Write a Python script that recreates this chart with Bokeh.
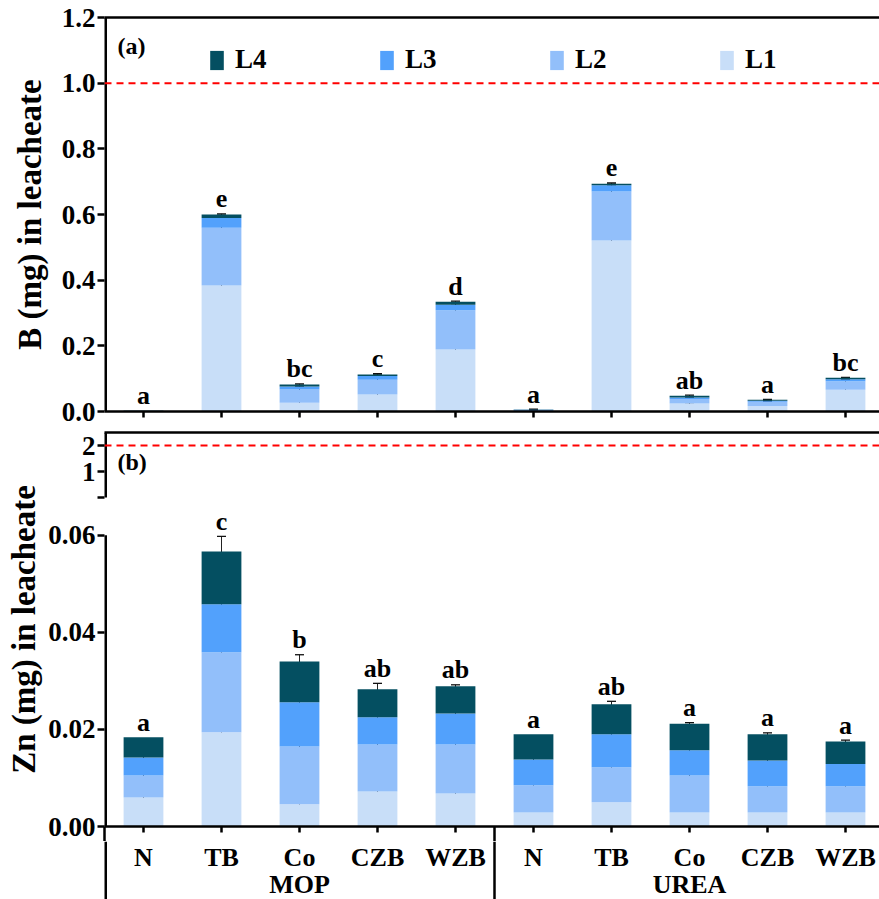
import numpy as np
from bokeh.plotting import figure
from bokeh.models import (ColumnDataSource, Range1d, FixedTicker, NumeralTickFormatter,
                          LinearAxis, Span, Whisker, TeeHead, Legend, LegendItem, Label)
from bokeh.layouts import column
from bokeh.core.properties import value
from bokeh.embed import file_html
from bokeh.resources import INLINE

# ---- data ---------------------------------------------------------------
treatments = ["N", "TB", "Co", "CZB", "WZB", "N", "TB", "Co", "CZB", "WZB"]
fertilizers = ["MOP", "UREA"]
layers = ["L1", "L2", "L3", "L4"]

# B leached from each soil layer (mg); first five = MOP, last five = UREA
b_L1 = [0.0012, 0.384, 0.027, 0.052, 0.189, 0.001, 0.521, 0.024, 0.017, 0.066]
b_L2 = [0.0008, 0.176, 0.040, 0.045, 0.119, 0.001, 0.149, 0.014, 0.013, 0.026]
b_L3 = [0.0004, 0.029, 0.009, 0.011, 0.017, 0.003, 0.019, 0.005, 0.003, 0.006]
b_L4 = [0.0003, 0.011, 0.006, 0.005, 0.009, 0.001, 0.005, 0.005, 0.003, 0.005]
b_err_L1 = [0, 0.066, 0.009, 0.006, 0.022, 0.001, 0.066, 0.003, 0.003, 0.031]
b_err_L2 = [0, 0.034, 0.008, 0.004, 0.008, 0.001, 0.021, 0.003, 0.002, 0.004]
b_err_L3 = [0, 0.005, 0.003, 0.003, 0.004, 0.001, 0.003, 0.002, 0.002, 0.002]
b_err_L4 = [0, 0.002, 0.002, 0.002, 0.002, 0.001, 0.002, 0.002, 0.001, 0.001]
b_letters = ["a", "e", "bc", "c", "d", "a", "e", "ab", "a", "bc"]
b_limit = 1.0

# Zn leached from each soil layer (mg)
zn_L1 = [0.0060, 0.0194, 0.0046, 0.0072, 0.0068, 0.0029, 0.0050, 0.0029, 0.0029, 0.0029]
zn_L2 = [0.0045, 0.0165, 0.0119, 0.0097, 0.0101, 0.0056, 0.0072, 0.0076, 0.0054, 0.0054]
zn_L3 = [0.0037, 0.0099, 0.0091, 0.0056, 0.0064, 0.0053, 0.0068, 0.0052, 0.0053, 0.0046]
zn_L4 = [0.0042, 0.0109, 0.0084, 0.0058, 0.0056, 0.0052, 0.0062, 0.0055, 0.0054, 0.0046]
zn_err_L1 = [0.0006, 0.0075, 0.0014, 0.0003, 0.0005, 0, 0, 0, 0, 0]
zn_err_L2 = [0.0003, 0.0033, 0.0026, 0.0015, 0.0012, 0.0003, 0.0005, 0.0018, 0.0003, 0.0003]
zn_err_L3 = [0.0003, 0.0022, 0.0016, 0.0006, 0.0009, 0.0003, 0.0004, 0.0004, 0.0003, 0.0003]
zn_err_L4 = [0, 0.0031, 0.0014, 0.0012, 0.0003, 0, 0.0006, 0.0002, 0.0003, 0.0003]
zn_letters = ["a", "c", "b", "ab", "ab", "a", "ab", "a", "a", "a"]
zn_limit = 2.0

# ---- styling / layout constants -----------------------------------------
FONT = "Liberation Serif"
COLORS = ["#C8DEF8", "#92BFFA", "#52A1FC", "#044F61"]
LEFT = 104
FRAME_W = 775
UNIT_PX = 78.0
X_END = FRAME_W / UNIT_PX
BAR_W = 0.51
LINE_W = 2.5
TICK_FONT = "27px"
SEP_TOP = 15          # separator length inside the Zn panel's bottom border

xs = [i + 0.5 for i in range(len(treatments))]
group_centers = [2.5, 7.5]
group_edges = [0, 5]

# broken Zn axis: lower part 0-0.06, upper part 0-2.5 drawn compressed above it
ZN_LOW_MAX = 0.06
ZN_UP_BASE = 0.0678
ZN_UP_SCALE = 0.00536
ZN_UP_MAX = 2.5
ZN_TOP = ZN_UP_BASE + ZN_UP_MAX * ZN_UP_SCALE


def zn_up(v):
    return ZN_UP_BASE + v * ZN_UP_SCALE


def make_fig(height, y_start, y_end, top, bottom, frame_top_line=True, axes=True):
    p = figure(width=LEFT + FRAME_W, height=height,
               x_range=Range1d(0, X_END), y_range=Range1d(y_start, y_end),
               output_backend="svg", toolbar_location=None,
               x_axis_location="below" if axes else None,
               y_axis_location="left" if axes else None,
               min_border_left=LEFT, min_border_right=0,
               min_border_top=top, min_border_bottom=bottom)
    p.outline_line_color = None
    p.grid.visible = False
    p.background_fill_color = "white"
    p.border_fill_color = "white"
    if frame_top_line:
        top_axis = LinearAxis(ticker=FixedTicker(ticks=[]), axis_line_width=LINE_W,
                              major_tick_line_color=None, minor_tick_line_color=None,
                              major_tick_out=0, major_tick_in=0, major_label_standoff=0)
        p.add_layout(top_axis, "above")
    return p


def style_axis(ax, size=TICK_FONT):
    ax.axis_line_width = LINE_W
    ax.major_tick_line_width = LINE_W
    ax.major_tick_in = 0
    ax.major_tick_out = 7
    ax.minor_tick_line_color = None
    ax.major_label_text_font = FONT
    ax.major_label_text_font_style = "bold"
    ax.major_label_text_font_size = size
    ax.major_label_text_color = "black"
    ax.axis_label_text_font = FONT
    ax.axis_label_text_font_style = "bold"
    ax.axis_label_text_font_size = "33px"
    ax.axis_label_text_color = "black"


def draw_panel(p, vals, errs, letters):
    data = dict(x=xs)
    for name, v in zip(layers, vals):
        data[name] = v
    src = ColumnDataSource(data)
    renderers = p.vbar_stack(layers, x="x", width=BAR_W, fill_color=COLORS,
                             line_color=None, source=src)
    cum = np.cumsum(np.array(vals, dtype=float), axis=0)
    wx, lo, hi = [], [], []
    for k in range(len(layers)):
        for i in range(len(xs)):
            e = errs[k][i]
            if e > 0:
                wx.append(xs[i])
                lo.append(cum[k][i] - e)
                hi.append(cum[k][i] + e)
    wsrc = ColumnDataSource(dict(x=wx, lower=lo, upper=hi))
    whisk = Whisker(source=wsrc, base="x", lower="lower", upper="upper",
                    dimension="height", line_color="#222222", line_width=1,
                    upper_head=TeeHead(size=9, line_color="#111111", line_width=1.3),
                    lower_head=TeeHead(size=9, line_color="#111111", line_width=1.3))
    p.add_layout(whisk)
    tops = cum[-1] + np.array(errs[-1], dtype=float)
    lsrc = ColumnDataSource(dict(x=xs, y=tops, lab=letters))
    p.text(x="x", y="y", text="lab", source=lsrc, text_font=value(FONT),
           text_font_style="bold", text_font_size="26px", text_color="black",
           text_align="center", text_baseline="alphabetic", y_offset=-15)
    return renderers


# ---- panel (a): B -------------------------------------------------------
pa = make_fig(426, 0, 1.2, 17, 15)
rs = draw_panel(pa, [b_L1, b_L2, b_L3, b_L4],
                [b_err_L1, b_err_L2, b_err_L3, b_err_L4], b_letters)
pa.segment(x0=[0], y0=[0], x1=[0], y1=[1.2], line_width=2 * LINE_W, line_color="black")

ya = pa.left[0]
style_axis(ya)
ya.axis_line_color = None
ya.ticker = FixedTicker(ticks=[0, 0.2, 0.4, 0.6, 0.8, 1.0, 1.2])
ya.formatter = NumeralTickFormatter(format="0.0")
ya.major_label_standoff = 2
ya.axis_label = "B (mg) in leacheate"
ya.axis_label_standoff = 11

xa = pa.below[0]
style_axis(xa)
xa.ticker = FixedTicker(ticks=xs)
xa.major_tick_out = 6
xa.major_label_overrides = {x: "" for x in xs}
xa.major_label_standoff = 0

pa.add_layout(Span(location=b_limit, dimension="width", line_color="#FF0000",
                   line_width=2, line_dash="7 5"))
pa.add_layout(Label(x=13 / UNIT_PX, y=1.112, text="(a)", text_font=FONT,
                    text_font_style="bold", text_font_size="24px", text_color="black",
                    text_baseline="middle", text_align="left"))

legend = Legend(items=[LegendItem(label=lab, renderers=[r])
                       for lab, r in zip(layers[::-1], rs[::-1])],
                orientation="horizontal", location=(104, 336),
                glyph_width=17, glyph_height=24, label_standoff=10,
                label_width=40, label_height=24, spacing=103, padding=0, margin=0,
                border_line_color=None, background_fill_alpha=0,
                label_text_font=FONT, label_text_font_style="bold",
                label_text_font_size="27px", label_text_color="black")
pa.add_layout(legend)

# ---- panel (b): Zn (broken axis) -----------------------------------------
pb = make_fig(6 + 394 + SEP_TOP, 0, ZN_TOP, 6, SEP_TOP)
draw_panel(pb, [zn_L1, zn_L2, zn_L3, zn_L4],
           [zn_err_L1, zn_err_L2, zn_err_L3, zn_err_L4], zn_letters)

# y spine in two pieces (the break sits between them)
pb.segment(x0=[0, 0], y0=[0, zn_up(0)], x1=[0, 0], y1=[ZN_LOW_MAX, ZN_TOP],
           line_width=2 * LINE_W, line_color="black")

up_ticks = [zn_up(0), zn_up(1), zn_up(2)]
yb = pb.left[0]
style_axis(yb)
yb.axis_line_color = None
yb.ticker = FixedTicker(ticks=[0, 0.02, 0.04, 0.06] + up_ticks)
yb.formatter = NumeralTickFormatter(format="0.00")
yb.major_label_overrides = {up_ticks[0]: "", up_ticks[1]: "1", up_ticks[2]: "2"}
yb.major_label_standoff = 2
yb.axis_label = "Zn (mg) in leacheate"
yb.axis_label_standoff = 3

xb = pb.below[0]
style_axis(xb)
xb.ticker = FixedTicker(ticks=xs, minor_ticks=group_edges)
xb.major_label_overrides = {x: "" for x in xs}
xb.major_label_standoff = 0
xb.major_tick_out = 6
xb.minor_tick_line_color = "black"
xb.minor_tick_line_width = LINE_W
xb.minor_tick_in = 0
xb.minor_tick_out = SEP_TOP

pb.add_layout(Span(location=zn_up(zn_limit), dimension="width", line_color="#FF0000",
                   line_width=2, line_dash="7 5"))
pb.add_layout(Label(x=13 / UNIT_PX, y=0.07505, text="(b)", text_font=FONT,
                    text_font_style="bold", text_font_size="24px", text_color="black",
                    text_baseline="middle", text_align="left"))

# ---- category / group labels with separators ------------------------------
pc = make_fig(899 - 426 - (6 + 394 + SEP_TOP), -1, 0, 0, 0,
              frame_top_line=False, axes=False)
pc.ray(x=group_edges, y=[0, 0], length=0, angle=-np.pi / 2,
       line_width=[2 * LINE_W, LINE_W], line_color="black")
pc.text(x=xs, y=[0] * len(xs), text=treatments, text_font=value(FONT),
        text_font_style="bold", text_font_size="26px", text_color="black",
        text_align="center", text_baseline="middle", y_offset=15.5)
pc.text(x=group_centers, y=[0, 0], text=fertilizers, text_font=value(FONT),
        text_font_style="bold", text_font_size="26px", text_color="black",
        text_align="center", text_baseline="middle", y_offset=43)

layout = column(pa, pb, pc, spacing=0)
open("out.html", "w").write(file_html(layout, INLINE))
